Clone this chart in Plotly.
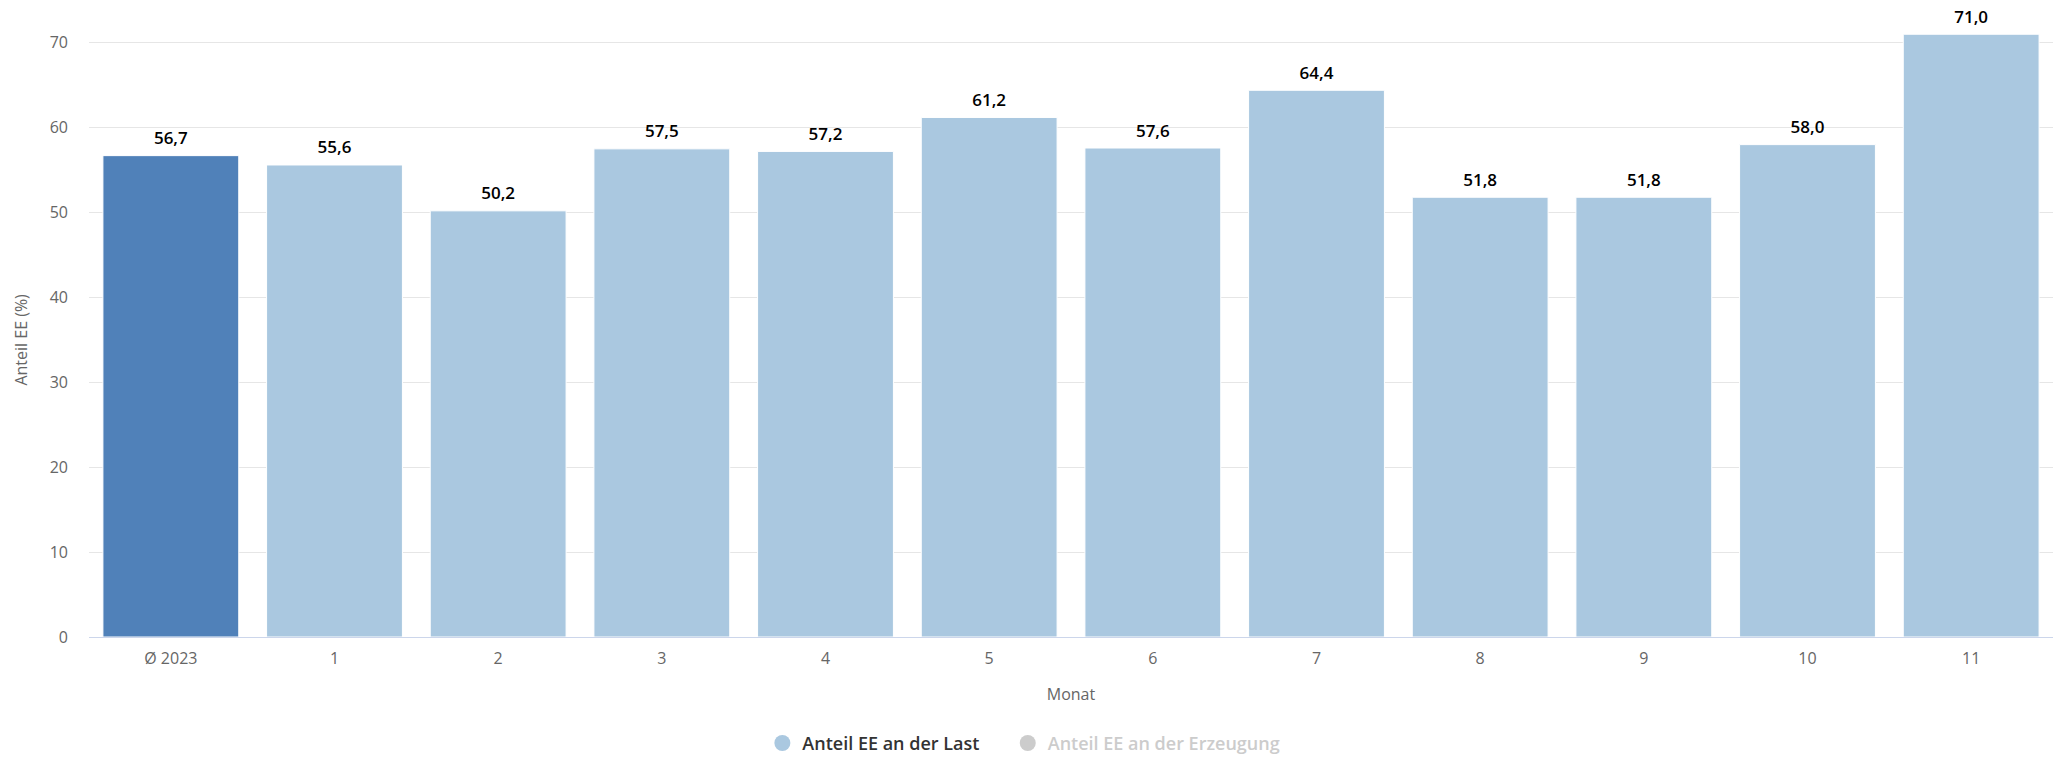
import plotly.graph_objects as go

categories = ["Ø 2023", "1", "2", "3", "4", "5", "6", "7", "8", "9", "10", "11"]
values = [56.7, 55.6, 50.2, 57.5, 57.2, 61.2, 57.6, 64.4, 51.8, 51.8, 58.0, 71.0]
bar_colors = ["#5081b9"] + ["#aac8e0"] * 11
y_ticks = [0, 10, 20, 30, 40, 50, 60, 70]
series_names = ["Anteil EE an der Last", "Anteil EE an der Erzeugung"]

FONT = "Open Sans"
NB = "&nbsp;" * 5

fig = go.Figure()
fig.add_trace(go.Bar(
    x=categories, y=values,
    marker=dict(color=bar_colors, line=dict(color="#ffffff", width=1)),
    showlegend=False, hoverinfo="x+y",
))
# data labels above bars
fig.add_trace(go.Scatter(
    x=categories, y=values, mode="markers+text",
    marker=dict(size=10, opacity=0),
    texttemplate="%{y:.1f}", textposition="top center", cliponaxis=False,
    textfont=dict(family=FONT, size=17, color="#000000", weight=600),
    showlegend=False, hoverinfo="skip",
))
fig.add_trace(go.Scatter(
    x=[None], y=[None], mode="markers", name=series_names[0] + NB,
    marker=dict(symbol="circle", size=18, color="#aac8e0"),
))
fig.add_trace(go.Scatter(
    x=[None], y=[None], mode="markers",
    name='<span style="color:#cccccc">' + series_names[1] + '</span>',
    marker=dict(symbol="circle", size=18, color="#cccccc"),
))

fig.add_annotation(
    text="Anteil EE (%)", textangle=-90, showarrow=False,
    xref="paper", yref="paper", x=-0.0346, y=0.49,
    xanchor="center", yanchor="middle",
    font=dict(family=FONT, size=16, color="#666666"),
)

fig.update_layout(
    width=2058, height=760,
    margin=dict(l=89, r=5, t=30, b=123),
    plot_bgcolor="#ffffff", paper_bgcolor="#ffffff",
    separators=",.",
    bargap=0.17,
    font=dict(family=FONT, size=16, color="#666666"),
    legend=dict(
        orientation="h", x=0.476, xanchor="center",
        yref="container", y=0.022, yanchor="middle",
        font=dict(family=FONT, size=18, color="#333333", weight=600),
        itemwidth=30, tracegroupgap=0,
    ),
    xaxis=dict(
        type="category", range=[-0.5, len(categories) - 0.5],
        showline=True, linecolor="#ccd6eb", linewidth=1,
        ticks="", tickfont=dict(size=16, color="#666666"),
        ticklabelstandoff=7,
        title=dict(text="Monat", font=dict(size=16, color="#666666"), standoff=20),
    ),
    yaxis=dict(
        range=[0, 71.5], tickvals=y_ticks,
        showgrid=True, gridcolor="#e6e6e6", gridwidth=1,
        zeroline=False, ticks="", automargin=False,
        tickfont=dict(size=16, color="#666666"),
        ticklabelstandoff=20,
    ),
)

fig.write_html("out.html", config={"displayModeBar": False},
               post_script="document.body.style.margin='0px';")
